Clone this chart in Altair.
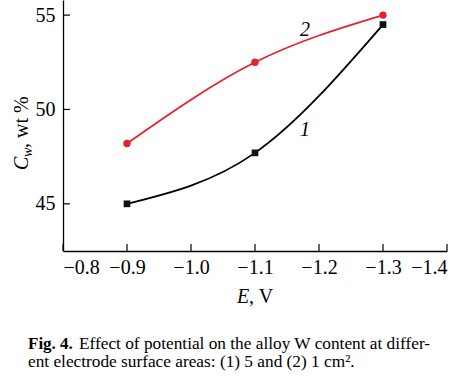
import altair as alt
import pandas as pd

# ---- data ----
E = [-0.9, -1.1, -1.3]
C1 = [45.0, 47.7, 54.5]   # curve 1 (5 cm2), black squares
C2 = [48.2, 52.5, 55.0]   # curve 2 (1 cm2), red circles
x_ticks = [-0.8, -0.9, -1.0, -1.1, -1.2, -1.3, -1.4]
y_ticks = [45, 50, 55]
curve_labels = ["1", "2"]
curve_label_E = [-1.178, -1.178]
curve_label_C = [48.9, 54.2]

SERIF = "Liberation Serif"
RED = "#e8212e"

df1 = pd.DataFrame({"E": E, "C": C1})
df2 = pd.DataFrame({"E": E, "C": C2})
dxt = pd.DataFrame({"E": x_ticks})
dyt = pd.DataFrame({"C": y_ticks})
dlab = pd.DataFrame({"t": curve_labels, "E": curve_label_E, "C": curve_label_C})

xs = alt.Scale(domain=[-1.4, -0.8], reverse=True, nice=False, zero=False)
ys = alt.Scale(domain=[42.5, 55.8], nice=False, zero=False)

xaxis = alt.Axis(values=x_ticks, format=".1f", title=None, grid=False, ticks=False,
                 tickSize=0, labelFont=SERIF, labelFontSize=20, labelColor="black",
                 labelPadding=6, domainColor="black", domainWidth=1.3)
yaxis = alt.Axis(values=y_ticks, format="d", title=None, grid=False, ticks=False,
                 tickSize=0, labelFont=SERIF, labelFontSize=20, labelColor="black",
                 labelPadding=8, domainColor="black", domainWidth=1.3)

base1 = alt.Chart(df1)
line1 = base1.mark_line(color="black", strokeWidth=1.8, interpolate="natural").encode(
    x=alt.X("E:Q", scale=xs, axis=xaxis), y=alt.Y("C:Q", scale=ys, axis=yaxis))
pts1 = base1.mark_point(shape="square", filled=True, color="#111111", size=45, opacity=1).encode(
    x="E:Q", y="C:Q")

base2 = alt.Chart(df2)
line2 = base2.mark_line(color=RED, strokeWidth=1.8, interpolate="natural").encode(
    x="E:Q", y="C:Q")
pts2 = base2.mark_point(shape="circle", filled=True, color=RED, size=55, opacity=1).encode(
    x="E:Q", y="C:Q")

xt = alt.Chart(dxt).mark_rule(color="black", strokeWidth=1.2).encode(
    x="E:Q", y=alt.value(251), y2=alt.value(244))
yt = alt.Chart(dyt).mark_rule(color="black", strokeWidth=1.2).encode(
    y="C:Q", x=alt.value(0), x2=alt.value(7))

labs = alt.Chart(dlab).mark_text(font=SERIF, fontSize=20, fontStyle="italic",
                                 color="black", align="center", baseline="middle").encode(
    x="E:Q", y="C:Q", text="t:N")

# axis titles
def txt(s, x, y, **kw):
    return alt.Chart(pd.DataFrame({"t": [s]})).mark_text(font=SERIF, color="black", **kw).encode(
        x=alt.value(x), y=alt.value(y), text="t:N")

xtitle_E = txt("E", 174, 303, fontSize=20, fontStyle="italic", align="left", baseline="alphabetic")
xtitle_V = txt(", V", 186, 303, fontSize=20, align="left", baseline="alphabetic")

ytitle_C = txt("C", -35, 170, fontSize=20, fontStyle="italic", angle=270, align="left", baseline="alphabetic")
ytitle_w = txt("w", -31, 157, fontSize=14, fontStyle="italic", angle=270, align="left", baseline="alphabetic")
ytitle_r = txt(", wt %", -35, 148, fontSize=20, angle=270, align="left", baseline="alphabetic")

cap1a = txt("Fig. 4.", -35, 349, fontSize=17, fontWeight="bold", align="left", baseline="alphabetic")
cap1b = txt("Effect of potential on the alloy W content at differ-", 16, 349, fontSize=17.3,
            align="left", baseline="alphabetic")
cap2 = txt("ent electrode surface areas: (1) 5 and (2) 1 cm\u00b2.", -35, 367, fontSize=17.3,
           align="left", baseline="alphabetic")

chart = alt.layer(
    line1, line2, pts1, pts2, xt, yt, labs,
    xtitle_E, xtitle_V, ytitle_C, ytitle_w, ytitle_r, cap1a, cap1b, cap2
).properties(
    width=384, height=251,
    autosize=alt.AutoSizeParams(type="none"),
    padding={"left": 63, "top": 0, "right": 27, "bottom": 125},
    background="white",
).configure_view(stroke=None)

chart.save("out.html", embed_options={"renderer": "svg", "actions": False})
